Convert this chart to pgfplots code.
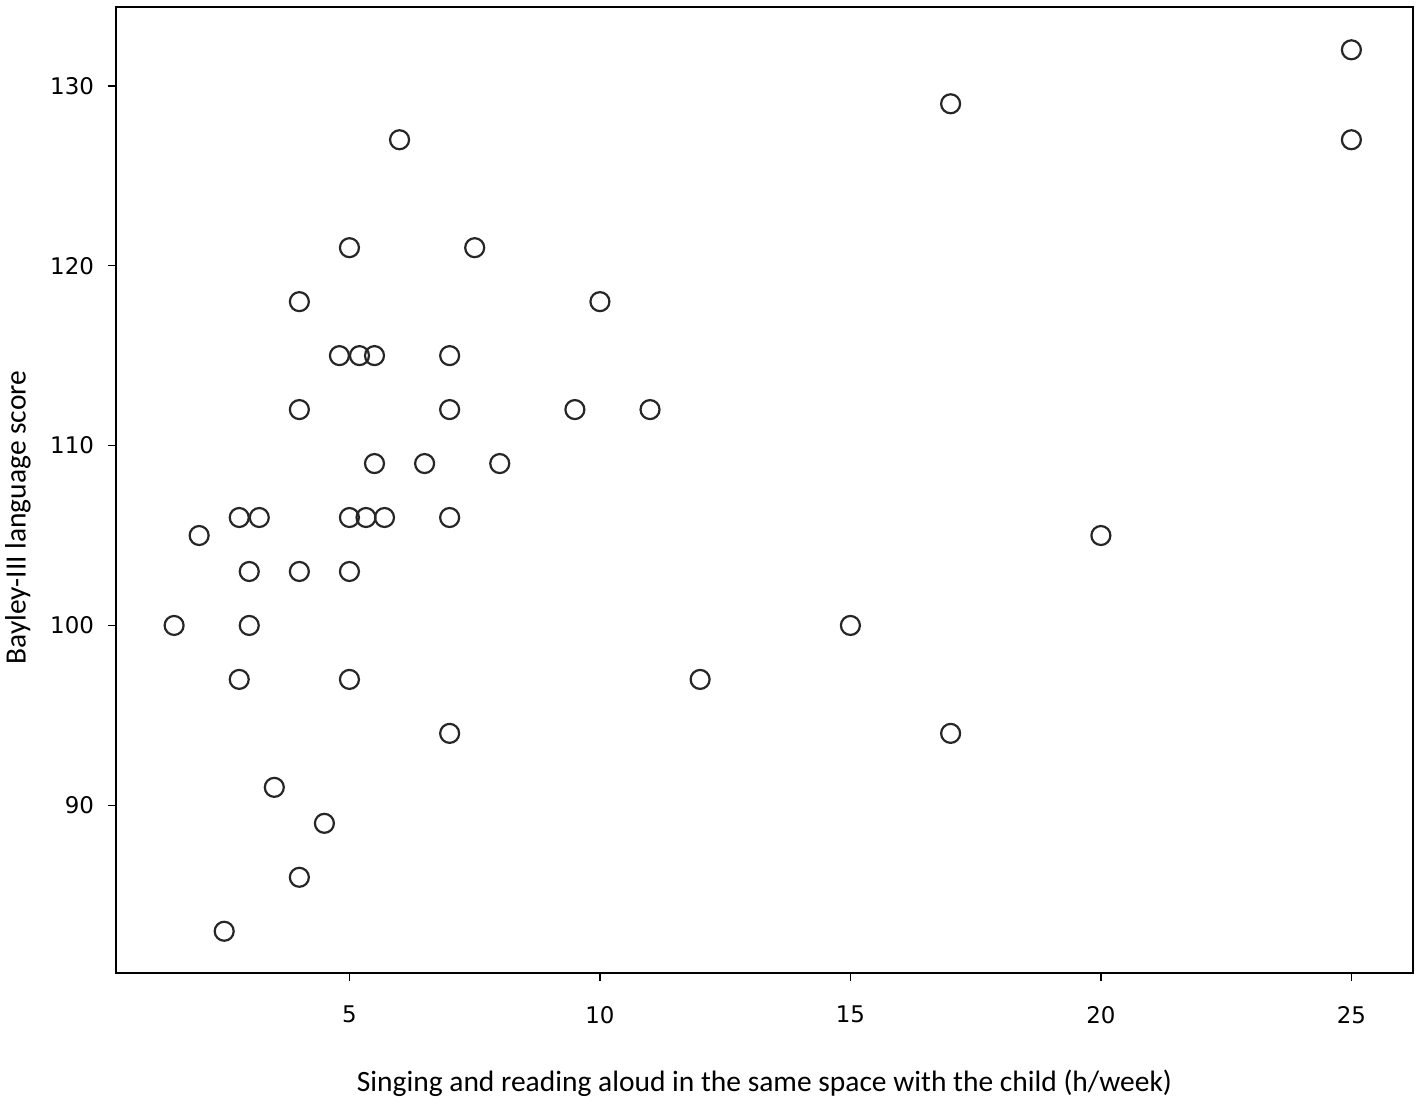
\documentclass[border=0pt]{standalone}
\usepackage{fontspec}
\setmainfont{DejaVu Sans}
\newfontfamily\carlito{Carlito}
\usepackage{pgfplots}
\pgfplotsset{compat=1.18}
\begin{document}
\begin{tikzpicture}
\path[use as bounding box] (-58bp,-65bp) rectangle (651bp,486.5bp);
\begin{axis}[
  at={(0,0)}, anchor=south west,
  scale only axis,
  width=648.5bp, height=483bp,
  xmin=0.34, xmax=26.23,
  ymin=80.68, ymax=134.38,
  xtick={5,10,15,20,25},
  ytick={90,100,110,120,130},
  tick align=outside,
  major tick length=4bp,
  tick style={line width=0.8bp, black},
  axis line style={line width=1bp},
  xtick pos=bottom, ytick pos=left,
  /pgf/number format/assume math mode=true,
  tick label style={font=\fontsize{11.5}{13}\selectfont, text=black},
  xticklabel style={yshift=-9bp},
  yticklabel style={xshift=-3.5bp},
  xlabel={Singing and reading aloud in the same space with the child (h/week)},
  ylabel={Bayley-III language score},
  label style={font=\carlito\fontsize{14.8}{17}\selectfont},
  xlabel style={at={(axis description cs:0.5,0)}, anchor=center, yshift=-55bp},
  ylabel style={at={(axis description cs:0,0.4715)}, anchor=center, xshift=0bp, yshift=49bp, rotate=0},
]
\addplot[only marks, mark=o, mark size=4.75bp, mark options={line width=1.1bp, black!85}] table {
x y
1.5 100
2 105
2.5 83
2.8 106
2.8 97
3 103
3 100
3.2 106
3.5 91
4 118
4 112
4 103
4 86
4.5 89
4.8 115
5 121
5 106
5 103
5 97
5.2 115
5.33 106
5.5 115
5.5 109
5.7 106
6 127
6.5 109
7 115
7 112
7 106
7 94
7.5 121
8 109
9.5 112
10 118
11 112
12 97
15 100
17 129
17 94
20 105
25 132
25 127
};
\end{axis}
\end{tikzpicture}
\end{document}
